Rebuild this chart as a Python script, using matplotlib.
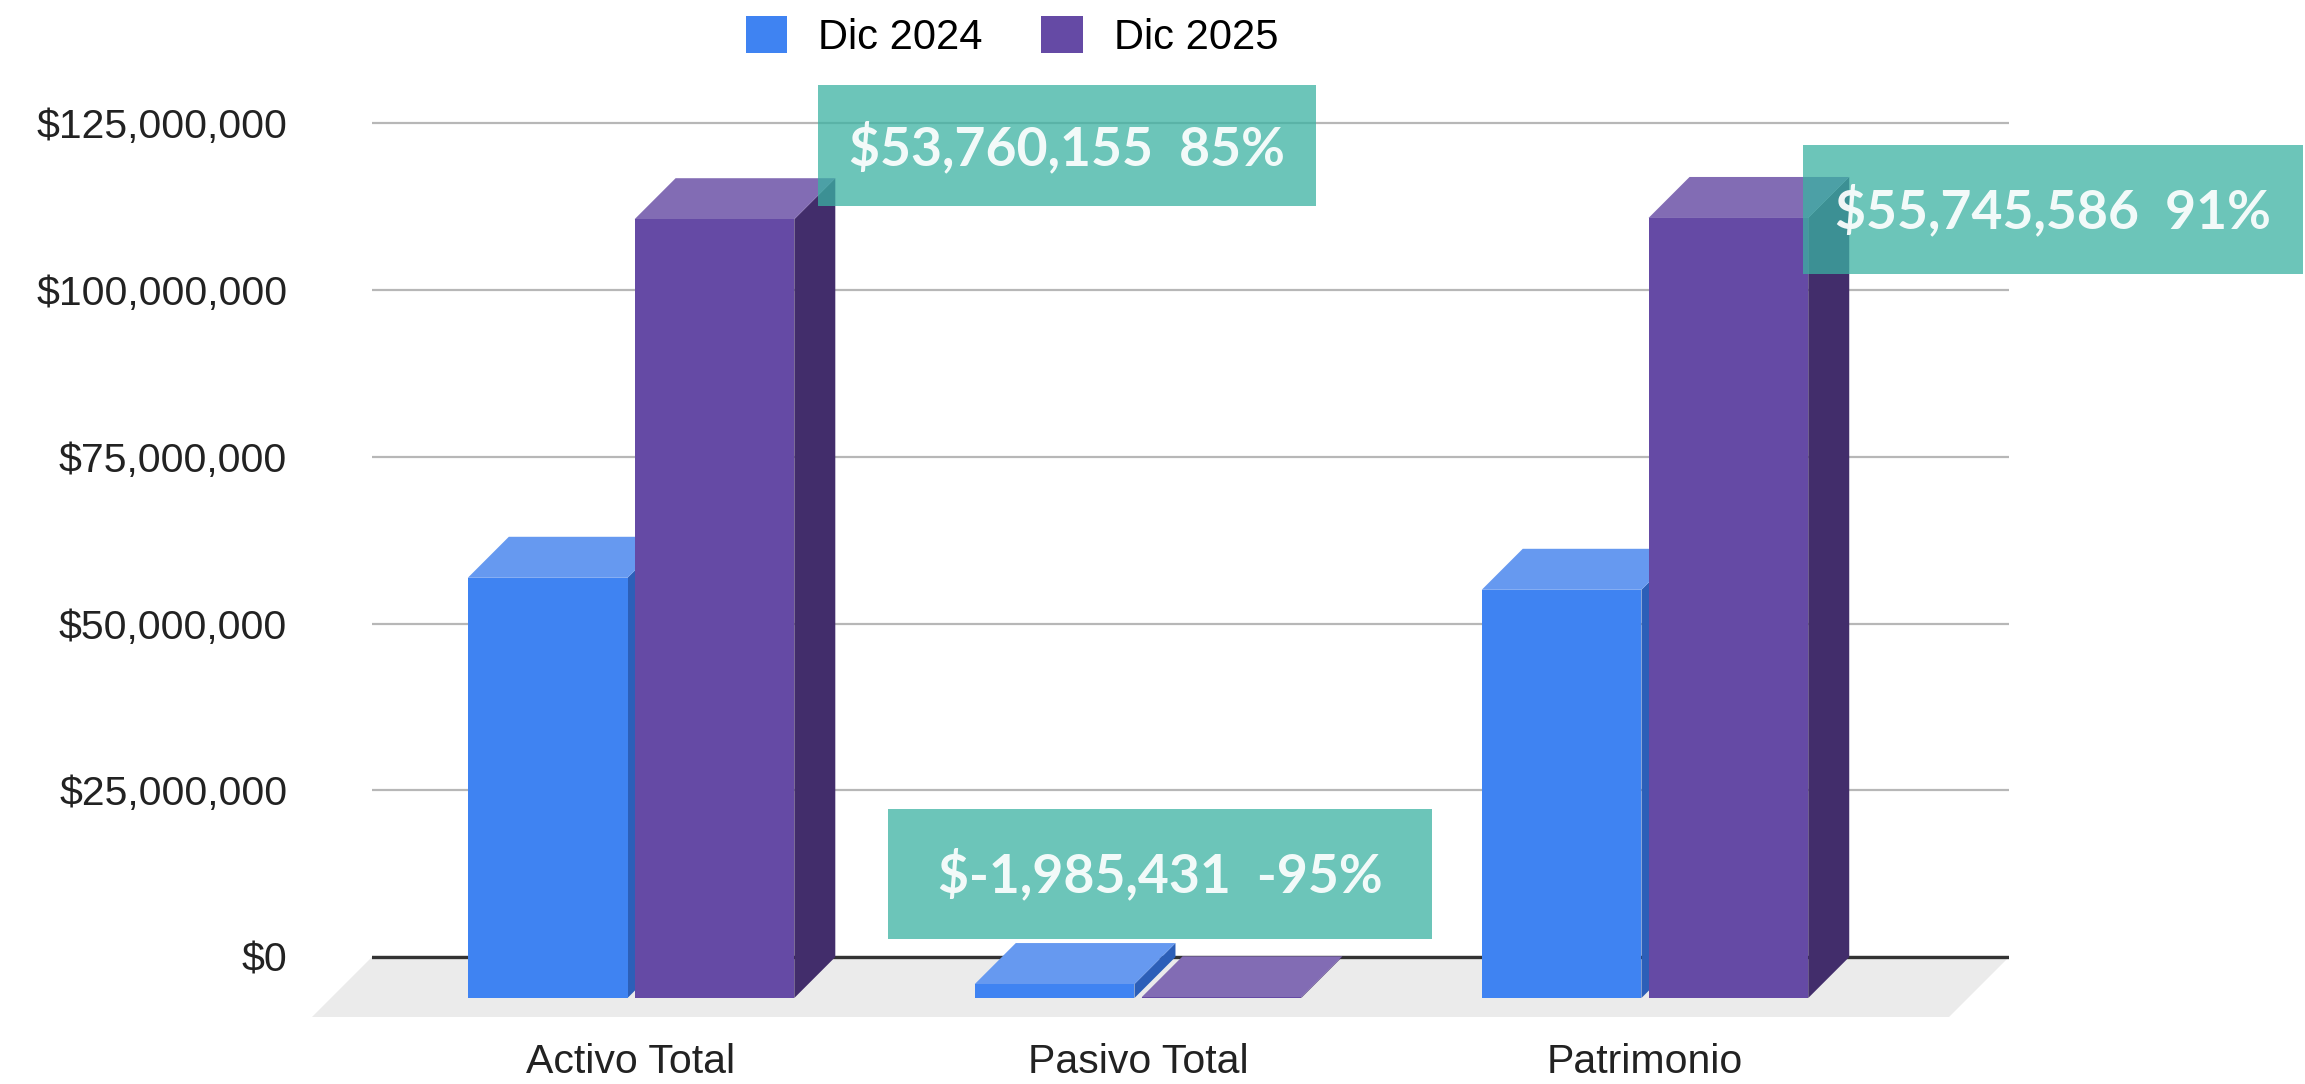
import matplotlib
matplotlib.use("Agg")
import matplotlib.pyplot as plt
from matplotlib.patches import Polygon, Rectangle, Patch
from matplotlib.ticker import FuncFormatter

categorias = ["Activo Total", "Pasivo Total", "Patrimonio"]
series = ["Dic 2024", "Dic 2025"]
dic_2024 = [63_000_000, 2_090_000, 61_200_000]
dic_2025 = [116_760_155, 104_569, 116_945_586]
yticks = [0, 25_000_000, 50_000_000, 75_000_000, 100_000_000, 125_000_000]

# colores (frente, tapa, lado)
azul = ("#3f83f2", "#6699f0", "#2c5fb8")
morado = ("#654aa5", "#826cb4", "#422d6b")
teal = "#3bb2a2"

plt.rcParams["font.family"] = ["Liberation Sans", "DejaVu Sans"]

W, H = 2305, 1084
fig = plt.figure(figsize=(W / 100, H / 100), dpi=100)

# layout in pixels of the original
x_left, x_right = 372, 2009
y_zero = 957
px_per_m = 6.67   # pixels per million
ax = fig.add_axes([x_left / W, 0, (x_right - x_left) / W, 1])
ax.set_xlim(-0.511, 2.718)
ax.set_ylim(-(H - y_zero) * 1e6 / px_per_m, y_zero * 1e6 / px_per_m)

# fake 3D depth: bars and floor
depth_x = 41 / 507
depth_y = 41 * 1e6 / px_per_m
floor_dx = 60 / 507
floor_dy = 60 * 1e6 / px_per_m

for s in ax.spines.values():
    s.set_visible(False)
ax.set_xticks([])
ax.set_yticks(yticks)
ax.yaxis.set_major_formatter(FuncFormatter(lambda v, p: f"${int(v):,}"))
ax.tick_params(axis="y", length=0, pad=61, labelsize=29.5, labelcolor="#222222")
ax.grid(axis="y", color="#b7b7b7", lw=1.6, zorder=1)
ax.set_axisbelow(True)
ax.axhline(0, color="#333333", lw=2.4, zorder=1.5)

# floor
x0, x1 = ax.get_xlim()
floor = Polygon([(x0, 0), (x1, 0), (x1 - floor_dx, -floor_dy), (x0 - floor_dx, -floor_dy)],
                closed=True, facecolor="#ebebeb", edgecolor="none", zorder=0.5, clip_on=False)
ax.add_patch(floor)

w = 0.315
gap = 0.014
z = 3
for i in range(len(categorias)):
    for j, (vals, cols) in enumerate([(dic_2024, azul), (dic_2025, morado)]):
        v = vals[i]
        xa = i - w - gap / 2 if j == 0 else i + gap / 2
        xb = xa + w
        # lado
        ax.add_patch(Polygon([(xb, -depth_y), (xb, v - depth_y), (xb + depth_x, v), (xb + depth_x, 0)],
                             closed=True, facecolor=cols[2], edgecolor="none", zorder=z))
        # tapa
        ax.add_patch(Polygon([(xa, v - depth_y), (xb, v - depth_y), (xb + depth_x, v), (xa + depth_x, v)],
                             closed=True, facecolor=cols[1], edgecolor="none", zorder=z + 0.1))
        # frente
        ax.bar(xa, v, width=w, bottom=-depth_y, align="edge", color=cols[0], zorder=z + 0.2)
        z += 1

for i, c in enumerate(categorias):
    ax.text(i, -(1073 - y_zero) * 1e6 / px_per_m, c, ha="center", va="baseline",
            fontsize=29.5, color="#222222")

# leyenda
handles = [Patch(facecolor=azul[0], edgecolor="none"), Patch(facecolor=morado[0], edgecolor="none")]
fig.legend(handles, series, loc="center", bbox_to_anchor=(1012 / W, 1 - 37 / H), ncol=2,
           frameon=False, fontsize=30, handlelength=1.0, handleheight=1.0,
           handletextpad=0.74, columnspacing=1.41, borderpad=0)

# cajas de variacion
cajas = [(818, 85, 498, 121, 165), (888, 809, 544, 130, 892), (1803, 145, 500, 129, 228)]
for i, (bx, by, bw, bh, base) in enumerate(cajas):
    diff = dic_2025[i] - dic_2024[i]
    pct = round(diff / dic_2024[i] * 100)
    fig.patches.append(Rectangle((bx / W, 1 - (by + bh) / H), bw / W, bh / H,
                                 transform=fig.transFigure, facecolor=teal, alpha=0.75,
                                 edgecolor="none", zorder=10))
    fig.text((bx + bw / 2) / W, 1 - base / H, f"${diff:,}  {pct}%", ha="center", va="baseline",
             fontsize=38.5, family=["Lato", "DejaVu Sans"], weight="bold", color="white",
             alpha=0.92, zorder=11)

fig.savefig("out.png", dpi=100, facecolor="white")
